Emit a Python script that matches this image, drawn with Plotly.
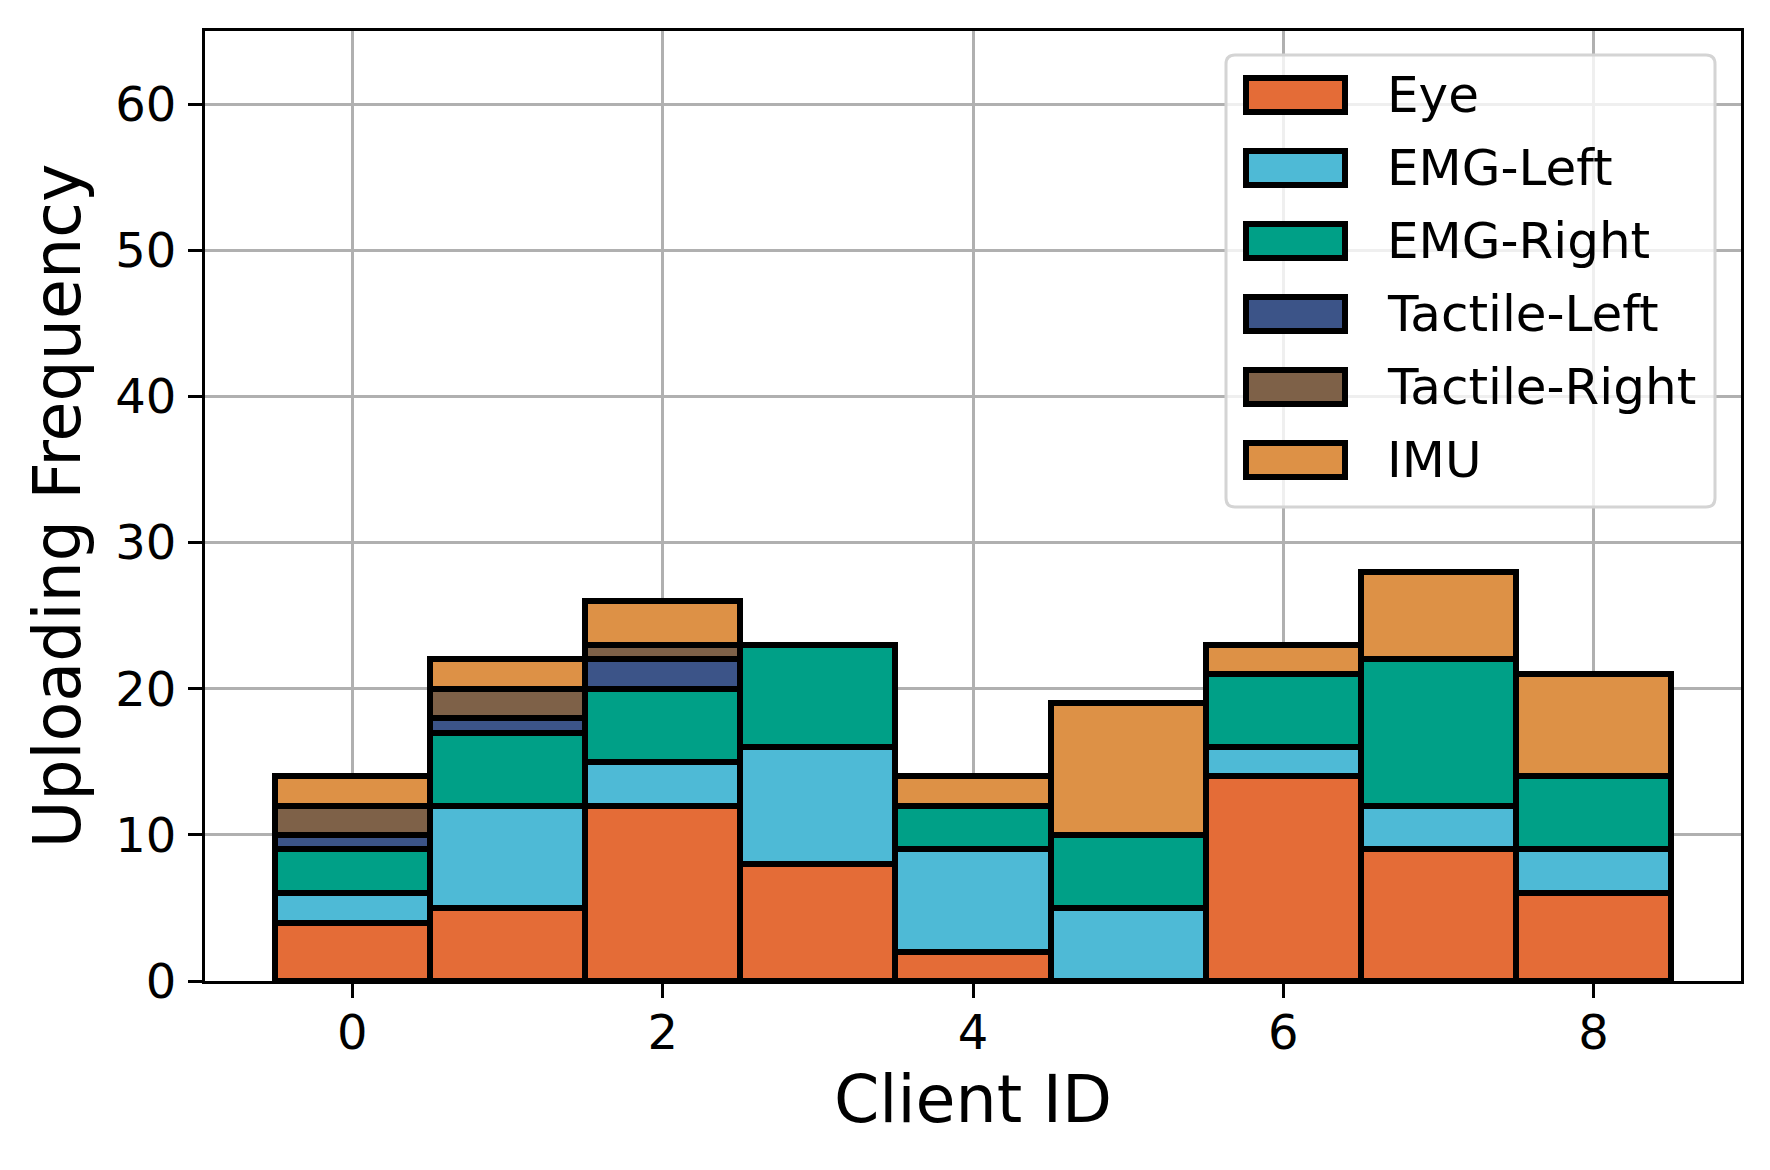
import plotly.graph_objects as go

clients = [0, 1, 2, 3, 4, 5, 6, 7, 8]
series_names = ["Eye", "EMG-Left", "EMG-Right", "Tactile-Left", "Tactile-Right", "IMU"]
eye = [4, 5, 12, 8, 2, 0, 14, 9, 6]
emg_left = [2, 7, 3, 8, 7, 5, 2, 3, 3]
emg_right = [3, 5, 5, 7, 3, 5, 5, 10, 5]
tactile_left = [1, 1, 2, 0, 0, 0, 0, 0, 0]
tactile_right = [2, 2, 1, 0, 0, 0, 0, 0, 0]
imu = [2, 2, 3, 0, 2, 9, 2, 6, 7]
series_values = [eye, emg_left, emg_right, tactile_left, tactile_right, imu]
colors = ["#E46C37", "#4EBAD6", "#00A087", "#3C5488", "#7E6148", "#DD9146"]
x_ticks = [0, 2, 4, 6, 8]
y_ticks = [0, 10, 20, 30, 40, 50, 60]

W, H = 1770, 1170
OFF = 8  # page body margin offset in the screenshot
# target plot area in screenshot pixels
AX_L, AX_R, AX_T, AX_B = 205, 1741, 31, 981
L, T = AX_L - OFF, AX_T - OFF
R = W - (AX_R - OFF)
B = H - (AX_B - OFF)
FONT = "DejaVu Sans"

fig = go.Figure()
for name, vals, col in zip(series_names, series_values, colors):
    fig.add_trace(go.Bar(
        x=clients, y=vals, name=name, width=1,
        marker=dict(color=col, line=dict(color="black", width=6)),
        showlegend=False,
    ))

# screenshot pixel -> paper helpers (layout only)
pw = AX_R - AX_L
ph = AX_B - AX_T
def px(xp):
    return (xp - AX_L) / pw
def py(yp):
    return 1 - (yp - AX_T) / ph

shapes = []
annotations = []
# legend frame (rounded)
lx0, lx1, ly0, ly1, r = 1226, 1715, 55, 507, 9
path = (f"M {px(lx0 + r)},{py(ly0)} L {px(lx1 - r)},{py(ly0)} "
        f"Q {px(lx1)},{py(ly0)} {px(lx1)},{py(ly0 + r)} "
        f"L {px(lx1)},{py(ly1 - r)} Q {px(lx1)},{py(ly1)} {px(lx1 - r)},{py(ly1)} "
        f"L {px(lx0 + r)},{py(ly1)} Q {px(lx0)},{py(ly1)} {px(lx0)},{py(ly1 - r)} "
        f"L {px(lx0)},{py(ly0 + r)} Q {px(lx0)},{py(ly0)} {px(lx0 + r)},{py(ly0)} Z")
shapes.append(dict(type="path", xref="paper", yref="paper", path=path,
                   fillcolor="rgba(255,255,255,0.8)", line=dict(color="#d4d4d4", width=3),
                   layer="above"))
row0, step = 95, 73
for i, (name, col) in enumerate(zip(series_names, colors)):
    cy = row0 + i * step
    shapes.append(dict(type="rect", xref="paper", yref="paper",
                       x0=px(1246), x1=px(1345), y0=py(cy + 17), y1=py(cy - 17),
                       fillcolor=col, line=dict(color="black", width=6), layer="above"))
    annotations.append(dict(xref="paper", yref="paper", x=px(1385), y=py(cy),
                            xanchor="left", yanchor="middle", showarrow=False,
                            text=name, font=dict(family=FONT, size=50, color="black")))

fig.update_layout(
    width=W, height=H,
    margin=dict(l=L, r=R, t=T, b=B),
    barmode="stack", bargap=0,
    plot_bgcolor="white", paper_bgcolor="white",
    font=dict(family=FONT, color="black"),
    shapes=shapes, annotations=annotations,
    showlegend=False,
)
fig.update_xaxes(
    range=[-0.95, 8.95], tickvals=x_ticks, ticktext=[str(v) for v in x_ticks],
    showgrid=True, gridcolor="#b0b0b0", gridwidth=3,
    showline=True, linecolor="black", linewidth=3, mirror=True,
    ticks="outside", ticklen=14, tickwidth=3, tickcolor="black",
    tickfont=dict(size=48, family=FONT), zeroline=False, automargin=False,
    ticklabelstandoff=-7,
    title=dict(text="Client ID", font=dict(size=65, family=FONT), standoff=18),
)
fig.update_yaxes(
    range=[0, 65], tickvals=y_ticks, ticktext=[str(v) for v in y_ticks],
    showgrid=True, gridcolor="#b0b0b0", gridwidth=3,
    showline=True, linecolor="black", linewidth=3, mirror=True,
    ticks="outside", ticklen=14, tickwidth=3, tickcolor="black",
    tickfont=dict(size=48, family=FONT), zeroline=False, automargin=False,
    ticklabelstandoff=2,
    title=dict(text="Uploading Frequency", font=dict(size=65, family=FONT), standoff=14),
)

fig.write_html("out.html")
